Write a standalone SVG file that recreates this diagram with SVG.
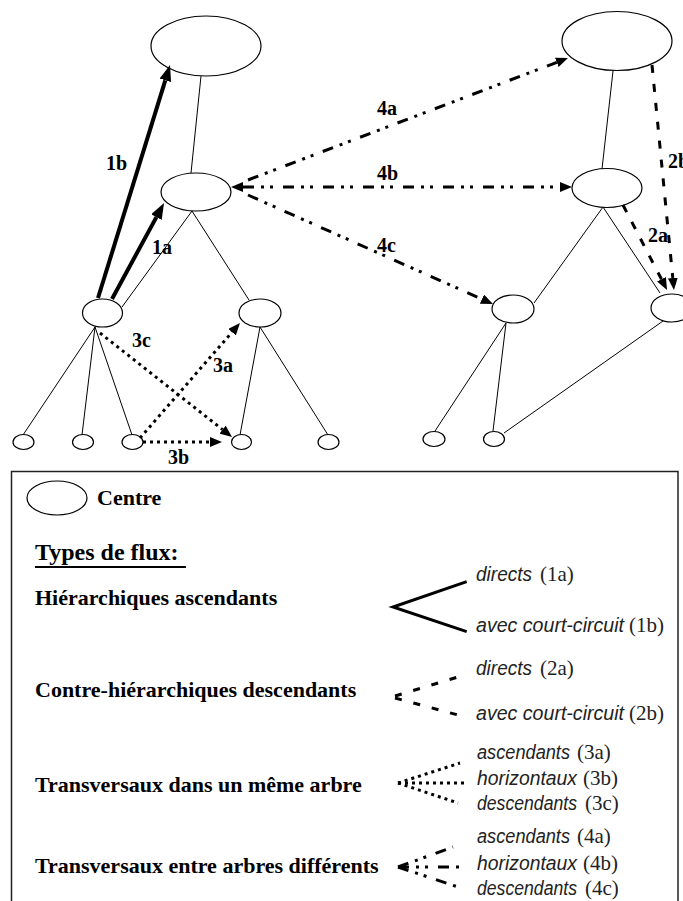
<svg xmlns="http://www.w3.org/2000/svg" width="683" height="901" viewBox="0 0 683 901">
<style>
.ln{stroke:#000;stroke-width:1;fill:none}
.nd{fill:#fff;stroke:#000;stroke-width:1.2}
.thick{stroke:#000;stroke-width:4;fill:none}
.dot{stroke:#000;stroke-width:3;stroke-dasharray:3 4;fill:none}
.dash{stroke:#000;stroke-width:3;stroke-dasharray:8 11;fill:none}
.dd{stroke:#000;stroke-width:3;stroke-dasharray:11 7 3 6 3 10;fill:none}
.lbl{font-family:"Liberation Serif","Times New Roman",serif;font-weight:bold;font-size:20px;fill:#000}
.ttl{font-family:"Liberation Serif","Times New Roman",serif;font-weight:bold;font-size:22px;fill:#000}
.it{font-family:"Liberation Sans",Arial,sans-serif;font-style:italic;font-size:20px;fill:#222}
.pr{font-family:"Liberation Serif","Times New Roman",serif;font-size:21px;fill:#222}
</style>
<defs>
<marker id="big" viewBox="0 0 16 12" refX="0" refY="6" markerWidth="16" markerHeight="12" markerUnits="userSpaceOnUse" orient="auto"><path d="M0,0 L16,6 L0,12 z" fill="#000"/></marker>
<marker id="sm" viewBox="0 0 12 10" refX="0" refY="5" markerWidth="12" markerHeight="10" markerUnits="userSpaceOnUse" orient="auto-start-reverse"><path d="M0,0 L12,5 L0,10 z" fill="#000"/></marker>
</defs>
<rect width="683" height="901" fill="#fff"/>

<g id="tree-edges">
<line class="ln" x1="201" y1="76" x2="191" y2="173"/>
<line class="ln" x1="192" y1="211" x2="122" y2="307"/>
<line class="ln" x1="192" y1="211" x2="249" y2="300"/>
<line class="ln" x1="95" y1="327" x2="23" y2="435"/>
<line class="ln" x1="95" y1="327" x2="82" y2="435"/>
<line class="ln" x1="95" y1="327" x2="132" y2="435"/>
<line class="ln" x1="260" y1="327" x2="240" y2="435"/>
<line class="ln" x1="260" y1="327" x2="328" y2="435"/>
<line class="ln" x1="613" y1="71" x2="602" y2="169"/>
<line class="ln" x1="603" y1="207" x2="534" y2="303"/>
<line class="ln" x1="603" y1="207" x2="660" y2="293"/>
<line class="ln" x1="506" y1="323" x2="435" y2="431"/>
<line class="ln" x1="506" y1="323" x2="493" y2="431"/>
<line class="ln" x1="663" y1="321" x2="504" y2="433"/>
</g>

<g id="nodes">
<g id="L-top"><ellipse class="nd" cx="206" cy="46" rx="55" ry="30"/></g>
<g id="L-mid"><ellipse class="nd" cx="196" cy="192" rx="35" ry="19"/></g>
<g id="L-c1"><ellipse class="nd" cx="102.5" cy="313" rx="20" ry="14"/></g>
<g id="L-c2"><ellipse class="nd" cx="260" cy="313" rx="21" ry="14"/></g>
<g id="L-l1"><ellipse class="nd" cx="23.5" cy="442" rx="10.5" ry="7.5"/></g>
<g id="L-l2"><ellipse class="nd" cx="83" cy="442" rx="10.5" ry="7.5"/></g>
<g id="L-l3"><ellipse class="nd" cx="132.5" cy="442" rx="10.5" ry="7.5"/></g>
<g id="L-l4"><ellipse class="nd" cx="241.5" cy="442" rx="10" ry="7.5"/></g>
<g id="L-l5"><ellipse class="nd" cx="328.5" cy="442" rx="10.5" ry="7.5"/></g>
<g id="R-top"><ellipse class="nd" cx="617" cy="41" rx="55" ry="29.5"/></g>
<g id="R-mid"><ellipse class="nd" cx="607" cy="188" rx="35" ry="19.5"/></g>
<g id="R-c1"><ellipse class="nd" cx="513" cy="309" rx="21" ry="14"/></g>
<g id="R-c2"><ellipse class="nd" cx="672" cy="308" rx="21" ry="14"/></g>
<g id="R-l1"><ellipse class="nd" cx="434" cy="439" rx="11" ry="7.5"/></g>
<g id="R-l2"><ellipse class="nd" cx="494" cy="439" rx="10.5" ry="7.5"/></g>
</g>

<g id="connectors">
<line class="thick" x1="98" y1="298" x2="165.3" y2="80.3" marker-end="url(#big)"/>
<line class="thick" x1="112" y1="299" x2="156.4" y2="217.1" marker-end="url(#big)"/>
<line class="dot" x1="100" y1="333" x2="222.6" y2="429.6" marker-end="url(#sm)"/>
<line class="dot" x1="140" y1="438" x2="232.1" y2="332.1" marker-end="url(#sm)"/>
<line class="dot" x1="143" y1="442" x2="210" y2="442" marker-end="url(#sm)"/>
<line class="dd" x1="248" y1="180" x2="556.8" y2="62.3" marker-end="url(#sm)"/>
<line class="dd" x1="243" y1="187" x2="560" y2="187" marker-start="url(#sm)" marker-end="url(#sm)"/>
<line class="dd" x1="248" y1="195" x2="482" y2="299.1" marker-end="url(#sm)"/>
<line class="dash" x1="652" y1="65" x2="672.8" y2="278" marker-end="url(#sm)"/>
<line class="dash" x1="623" y1="205" x2="661.5" y2="279.3" marker-end="url(#sm)"/>
</g>

<g id="labels">
<text class="lbl" x="106" y="170">1b</text>
<text class="lbl" x="152" y="254">1a</text>
<text class="lbl" x="132" y="347">3c</text>
<text class="lbl" x="213" y="372">3a</text>
<text class="lbl" x="168" y="464">3b</text>
<text class="lbl" x="377" y="115">4a</text>
<text class="lbl" x="377" y="180">4b</text>
<text class="lbl" x="377" y="252">4c</text>
<text class="lbl" x="668" y="168">2b</text>
<text class="lbl" x="648" y="242">2a</text>
</g>

<g id="legend">
<rect x="11.5" y="471.5" width="666.5" height="440" fill="none" stroke="#222" stroke-width="1.5"/>
<ellipse class="nd" cx="57" cy="498" rx="30" ry="17"/>
<text class="ttl" x="97" y="505">Centre</text>
<text class="ttl" x="35" y="560" style="font-size:24px">Types de flux:</text>
<line x1="35" y1="567" x2="186" y2="567" stroke="#000" stroke-width="2"/>
<text class="ttl" x="35" y="605">Hiérarchiques ascendants</text>
<text class="ttl" x="35" y="697">Contre-hiérarchiques descendants</text>
<text class="ttl" x="35" y="792">Transversaux dans un même arbre</text>
<text class="ttl" x="35" y="873">Transversaux entre arbres différents</text>

<polyline points="466.7,581.7 393,607 466.7,631.7" fill="none" stroke="#000" stroke-width="3"/>
<line class="dash" x1="395" y1="696" x2="458" y2="677" style="stroke-dasharray:7 12"/>
<line class="dash" x1="395" y1="698" x2="458" y2="715" style="stroke-dasharray:7 12"/>
<line class="dot" x1="398" y1="783" x2="460" y2="763"/>
<line class="dot" x1="398" y1="783" x2="465" y2="783"/>
<line class="dot" x1="398" y1="783" x2="458" y2="803"/>
<line class="dd" x1="398" y1="867" x2="453" y2="847"/>
<line class="dd" x1="398" y1="867" x2="465" y2="867"/>
<line class="dd" x1="398" y1="867" x2="458" y2="887"/>

<text class="it" x="476" y="581" textLength="56" lengthAdjust="spacingAndGlyphs">directs</text>
<text class="pr" x="540" y="581">(1a)</text>
<text class="it" x="476" y="632" textLength="148" lengthAdjust="spacingAndGlyphs">avec court-circuit</text>
<text class="pr" x="629" y="632">(1b)</text>
<text class="it" x="476" y="675" textLength="56" lengthAdjust="spacingAndGlyphs">directs</text>
<text class="pr" x="540" y="675">(2a)</text>
<text class="it" x="476" y="720" textLength="148" lengthAdjust="spacingAndGlyphs">avec court-circuit</text>
<text class="pr" x="629" y="720">(2b)</text>
<text class="it" x="477" y="759" textLength="93" lengthAdjust="spacingAndGlyphs">ascendants</text>
<text class="pr" x="577" y="759">(3a)</text>
<text class="it" x="477" y="785" textLength="100" lengthAdjust="spacingAndGlyphs">horizontaux</text>
<text class="pr" x="583" y="785">(3b)</text>
<text class="it" x="477" y="810" textLength="100" lengthAdjust="spacingAndGlyphs">descendants</text>
<text class="pr" x="585" y="810">(3c)</text>
<text class="it" x="477" y="843" textLength="93" lengthAdjust="spacingAndGlyphs">ascendants</text>
<text class="pr" x="577" y="843">(4a)</text>
<text class="it" x="477" y="870" textLength="100" lengthAdjust="spacingAndGlyphs">horizontaux</text>
<text class="pr" x="583" y="870">(4b)</text>
<text class="it" x="477" y="895" textLength="100" lengthAdjust="spacingAndGlyphs">descendants</text>
<text class="pr" x="585" y="895">(4c)</text>
</g>
</svg>
